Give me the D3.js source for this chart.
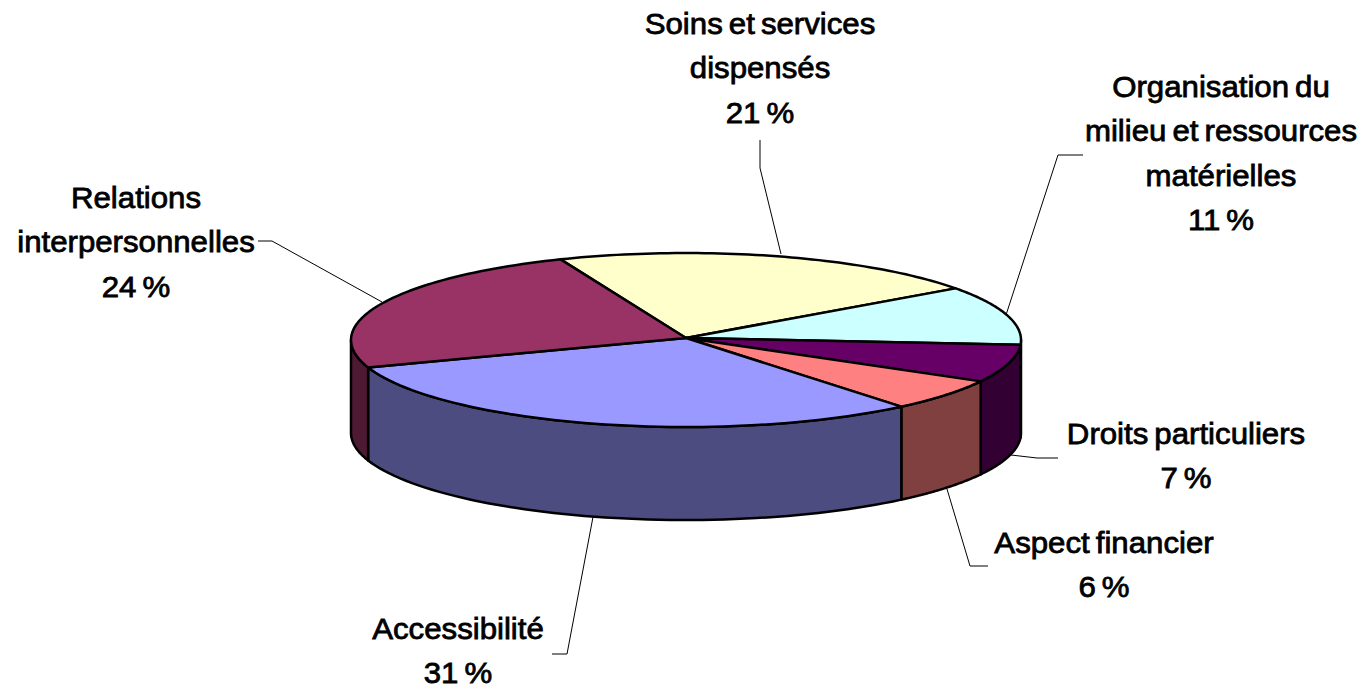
<!DOCTYPE html>
<html><head><meta charset="utf-8">
<script src="https://cdn.jsdelivr.net/npm/d3@7"></script>
<style>html,body{margin:0;padding:0;background:#fff}svg{display:block}
text{font-family:"Liberation Sans",Arial,sans-serif;font-size:30px;fill:#000;stroke:#000;stroke-width:.8px;text-anchor:middle;word-spacing:-2.5px}</style>
</head><body><svg id="c" width="1361" height="686"></svg>
<script>
const categories=["Soins et services dispensés","Organisation du milieu et ressources matérielles","Droits particuliers","Aspect financier","Accessibilité","Relations interpersonnelles"];
const values=[21,11,7,6,31,24];
const topColors=["#ffffcc","#ccffff","#660066","#ff8080","#9999ff","#993366"];
const wallColors=["#808066","#668080","#330033","#804040","#4c4c80","#4d1933"];
const labelLines=[["Soins et services","dispensés","21 %"],["Organisation du","milieu et ressources","matérielles","11 %"],["Droits particuliers","7 %"],["Aspect financier","6 %"],["Accessibilité","31 %"],["Relations","interpersonnelles","24 %"]];
const labelAt=[[760,24],[1221,87],[1186,434],[1104,543],[458,629],[136,198]];
const leaders=[[[781,254],[760,168],[760,140]],[[1006,315],[1058,155],[1083,155]],[[1011,455],[1037,458],[1058,458]],[[947,489],[970,566],[988,566]],[[593,517],[567,654],[552,654]],[[382,302],[272,241],[258,241]]];

const svg=d3.select("#c");
const D2R=Math.PI/180, depth=93, hubLift=2;
const px=d3.scaleLinear().domain([-1,1]).range([351,1021]);
const py=d3.scaleLinear().domain([-1,1]).range([427,253]);
const pie=d3.pie().sort(null).startAngle(-22*D2R).endAngle(338*D2R);
const arcs=pie(values);
const pt=(t,dy=0)=>[px(Math.sin(t)),py(Math.cos(t))+dy];
const samples=(a,b)=>d3.range(0,61).map(i=>a+(b-a)*i/60);
const line=d3.line();

const fa=90*D2R, fb=270*D2R;
arcs.forEach((d,i)=>{
  const a=Math.max(d.startAngle,fa), b=Math.min(d.endAngle,fb);
  if(b<=a) return;
  const s=samples(a,b);
  svg.append("path").attr("d",line([...s.map(t=>pt(t)),...s.slice().reverse().map(t=>pt(t,depth))])+"Z")
    .attr("fill",wallColors[i]).attr("stroke","#000").attr("stroke-width",2.5).attr("stroke-linejoin","round");
});
arcs.forEach((d,i)=>{
  const s=samples(d.startAngle,d.endAngle);
  svg.append("path").attr("d",line([[px(0),py(0)-hubLift],...s.map(t=>pt(t))])+"Z")
    .attr("fill",topColors[i]).attr("stroke","#000").attr("stroke-width",2.5).attr("stroke-linejoin","round");
});
leaders.forEach(l=>svg.append("path").attr("d",line(l)).attr("fill","none").attr("stroke","#000").attr("stroke-width",1));
labelLines.forEach((ls,i)=>{
  const g=svg.append("g").attr("transform",`translate(${labelAt[i][0]},${labelAt[i][1]+10}) scale(1.04,1)`);
  ls.forEach((t,j)=>g.append("text").attr("y",j*44.3).text(t));
});
</script></body></html>
